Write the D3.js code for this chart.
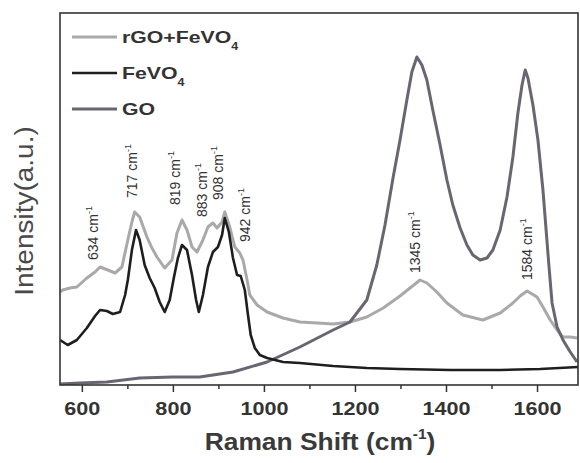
<!DOCTYPE html>
<html><head><meta charset="utf-8">
<script src="https://cdn.jsdelivr.net/npm/d3@7"></script>
<style>body{margin:0;background:#fff}svg{display:block}</style>
</head><body>
<svg id="c" width="580" height="463"></svg>
<script>
// ---- data ----
const xTickValues = [600, 800, 1000, 1200, 1400, 1600];
const xMinorTicks = [700, 900, 1100, 1300, 1500];
const seriesNames = ["rGO+FeVO", "FeVO", "GO"];
const seriesSubs = ["4", "4", ""];

const rgoFeVO4 = [[552,93],[558,95],[574,97],[589,98],[611,107],[629,113],[640,118],[657,115],[673,112],[688,118],
 [701,145],[710,163],[716,173],[727,168],[743,148],[754,137],[765,128],[782,117],[798,125],[809,152],[820,165],
 [831,155],[842,138],[853,133],[866,145],[877,158],[888,162],[897,157],[908,163],[914,173],[925,158],[936,138],
 [947,132],[954,125],[963,105],[969,90],[985,80],[1007,73],[1042,67],[1079,63],[1117,62],[1152,61],[1189,63],
 [1226,68],[1262,77],[1299,89],[1321,97],[1343,105],[1358,102],[1380,93],[1402,82],[1437,70],[1481,65],[1519,72],
 [1547,82],[1563,89],[1578,94],[1600,88],[1613,78],[1629,65],[1644,55],[1657,48],[1673,48],[1688,47]];

const feVO4 = [[552,45],[569,40],[589,45],[611,57],[629,69],[640,75],[655,74],[668,71],[684,73],[695,90],[701,105],
 [710,135],[719,155],[727,145],[738,120],[749,107],[760,97],[771,83],[782,73],[793,85],[802,107],[811,127],[820,140],
 [831,135],[842,110],[851,85],[857,73],[866,90],[877,118],[888,133],[899,138],[908,150],[914,167],[923,153],[932,127],
 [941,110],[949,109],[958,95],[965,70],[971,50],[980,37],[991,30],[1007,27],[1042,23],[1079,22],[1152,19],[1226,17],
 [1299,16],[1409,15],[1519,15],[1607,16],[1690,18]];

const go = [[552,1],[596,2],[655,3],[727,7],[800,8],[859,8],[932,13],[1007,23],[1079,38],[1152,55],[1189,63],[1226,85],
 [1248,120],[1266,160],[1284,208],[1299,245],[1314,285],[1325,313],[1336,328],[1347,320],[1358,305],[1371,275],
 [1387,240],[1402,205],[1415,180],[1431,157],[1446,140],[1459,130],[1475,125],[1490,127],[1503,135],[1519,155],
 [1534,188],[1547,228],[1558,272],[1567,300],[1574,315],[1580,307],[1591,280],[1602,245],[1613,195],[1626,120],
 [1633,82],[1644,58],[1657,45],[1673,33],[1688,23]];

const peakLabels = ["634", "717", "819", "883", "908", "942", "1345", "1584"];
const peakLabelWave = [624, 710, 804, 864, 899, 958, 1332, 1578];
const peakLabelInt = [125, 187, 180, 168, 185, 143, 112, 105];

// ---- chart ----
const svg = d3.select("#c");
const L = 60, R = 578, T = 13, B = 385;
const x = d3.scaleLinear([552, 1690], [L, R]);
const y = d3.scaleLinear([0, 372], [B, T]);
const colors = ["#a9a9a9", "#1e1e1e", "#6a6570"];
const widths = [3, 2.6, 3];

svg.append("rect").attr("width", 580).attr("height", 463).attr("fill", "#fff");

const line = d3.line().x(d => x(d[0])).y(d => y(d[1]));
svg.append("clipPath").attr("id", "cp").append("rect")
  .attr("x", L).attr("y", T).attr("width", R - L).attr("height", B - T);
const plot = svg.append("g").attr("clip-path", "url(#cp)");
[[rgoFeVO4, 0], [go, 2], [feVO4, 1]].forEach(([d, i]) => {
  plot.append("path").datum(d).attr("d", line).attr("fill", "none")
    .attr("stroke", colors[i]).attr("stroke-width", widths[i]).attr("stroke-linejoin", "round");
});

// frame
svg.append("rect").attr("x", L).attr("y", T).attr("width", R - L).attr("height", B - T)
  .attr("fill", "none").attr("stroke", "#333").attr("stroke-width", 1.6);

// axes
const ax = svg.append("g").attr("transform", `translate(0,${B})`)
  .call(d3.axisBottom(x).tickValues(xTickValues).tickSize(7).tickSizeOuter(0).tickFormat(d3.format("d")));
ax.select(".domain").remove();
ax.selectAll(".tick line").attr("stroke", "#333").attr("stroke-width", 1.5);
ax.selectAll(".tick text").attr("y", 30).attr("dy", 0)
  .attr("font-family", "Liberation Sans, Arial, sans-serif").attr("font-weight", "bold")
  .attr("font-size", 18).attr("fill", "#333").attr("transform", "scale(1.2,1)");
const axm = svg.append("g").attr("transform", `translate(0,${B})`)
  .call(d3.axisBottom(x).tickValues(xMinorTicks).tickSize(4).tickSizeOuter(0).tickFormat(""));
axm.select(".domain").remove();
axm.selectAll(".tick line").attr("stroke", "#333").attr("stroke-width", 1.5);

// axis titles
const xt = svg.append("g").attr("transform", "translate(320,450) scale(1.1,1)")
  .append("text").attr("text-anchor", "middle")
  .attr("font-family", "Liberation Sans, Arial, sans-serif").attr("font-weight", "bold")
  .attr("font-size", 24).attr("fill", "#3a3a3a");
xt.append("tspan").text("Raman Shift (cm");
xt.append("tspan").attr("dy", -11).attr("font-size", 14).text("-1");
xt.append("tspan").attr("dy", 11).text(")");

svg.append("g").attr("transform", "translate(24,211) rotate(-90) scale(1.12,1)")
  .append("text").attr("text-anchor", "middle").attr("dy", "0.35em")
  .attr("font-family", "Liberation Sans, Arial, sans-serif")
  .attr("font-size", 25).attr("fill", "#4a4a4a").text("Intensity(a.u.)");

// legend
const legY = [37, 73, 109];
seriesNames.forEach((n, i) => {
  svg.append("line").attr("x1", 72).attr("x2", 117).attr("y1", legY[i]).attr("y2", legY[i])
    .attr("stroke", colors[i]).attr("stroke-width", widths[i]);
  const t = svg.append("g").attr("transform", `translate(122,${legY[i] + 6}) scale(1.25,1)`)
    .append("text").attr("font-family", "Liberation Sans, Arial, sans-serif")
    .attr("font-weight", "bold").attr("font-size", 17).attr("fill", "#333");
  t.append("tspan").text(n);
  if (seriesSubs[i]) t.append("tspan").attr("dy", 7).attr("font-size", 10).text(seriesSubs[i]);
});

// peak annotations
peakLabels.forEach((p, i) => {
  const t = svg.append("g")
    .attr("transform", `translate(${x(peakLabelWave[i]) + 5},${y(peakLabelInt[i])}) rotate(-90)`)
    .append("text").attr("font-family", "Liberation Sans, Arial, sans-serif")
    .attr("font-size", 14).attr("fill", "#333");
  t.append("tspan").text(p + " cm");
  t.append("tspan").attr("dy", -6).attr("font-size", 9).text("-1");
});
</script>
</body></html>
